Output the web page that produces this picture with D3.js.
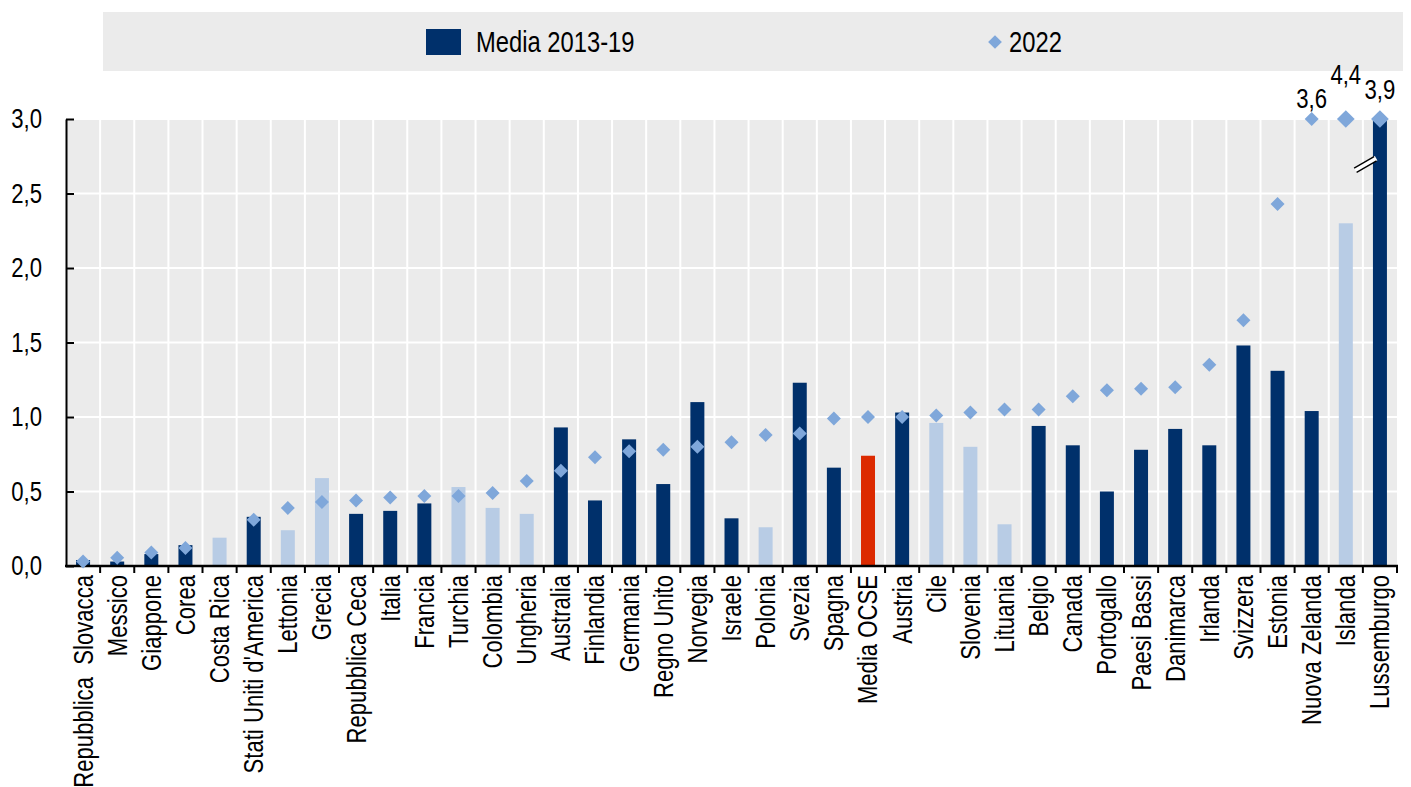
<!DOCTYPE html>
<html>
<head>
<meta charset="utf-8">
<script src="https://cdn.jsdelivr.net/npm/d3@7"></script>
<style>
  html, body { margin: 0; padding: 0; background: #fff; }
  svg { display: block; }
  text { font-family: "Liberation Sans", Arial, sans-serif; fill: #000; }
</style>
</head>
<body>
<div id="chart"></div>
<script>
// Data
const countries = [
  "Repubblica  Slovacca", "Messico", "Giappone", "Corea", "Costa Rica",
  "Stati Uniti d'America", "Lettonia", "Grecia", "Repubblica Ceca", "Italia",
  "Francia", "Turchia", "Colombia", "Ungheria", "Australia",
  "Finlandia", "Germania", "Regno Unito", "Norvegia", "Israele",
  "Polonia", "Svezia", "Spagna", "Media OCSE", "Austria",
  "Cile", "Slovenia", "Lituania", "Belgio", "Canada",
  "Portogallo", "Paesi Bassi", "Danimarca", "Irlanda", "Svizzera",
  "Estonia", "Nuova Zelanda", "Islanda", "Lussemburgo"
];
const avg2013_19 = [
  0.04, 0.03, 0.08, 0.14, 0.19,
  0.33, 0.24, 0.59, 0.35, 0.37,
  0.42, 0.53, 0.39, 0.35, 0.93,
  0.44, 0.85, 0.55, 1.10, 0.32,
  0.26, 1.23, 0.66, 0.74, 1.03,
  0.96, 0.80, 0.28, 0.94, 0.81,
  0.50, 0.78, 0.92, 0.81, 1.48,
  1.31, 1.04, 2.30, 3.20
];
const val2022 = [
  0.03, 0.055, 0.09, 0.12, null,
  0.31, 0.39, 0.43, 0.44, 0.46,
  0.47, 0.47, 0.49, 0.57, 0.64,
  0.73, 0.77, 0.78, 0.80, 0.83,
  0.88, 0.89, 0.99, 1.00, 1.00,
  1.01, 1.03, 1.05, 1.05, 1.14,
  1.18, 1.19, 1.20, 1.35, 1.65,
  2.43, 3.6, 4.4, 3.9
];
// countries drawn in the lighter shade
const lightBars = ["Costa Rica", "Lettonia", "Grecia", "Turchia", "Colombia", "Ungheria",
                   "Polonia", "Cile", "Slovenia", "Lituania", "Islanda"];
const averageName = "Media OCSE";
const yTicks = [0, 0.5, 1.0, 1.5, 2.0, 2.5, 3.0];
const legendLabels = ["Media 2013-19", "2022"];

// Layout
const width = 1411, height = 787;
const margin = { top: 119, right: 14, bottom: 221, left: 66 };
const yMax = 3.0;
const colors = { dark: "#00306b", light: "#b8cce5", oecd: "#dc2a00", diamond: "#7fa7da", bg: "#ebebeb" };
const fontSize = 27;
const narrow = 0.82; // squeeze Liberation Sans to look like a narrow face

const it = d3.formatLocale({ decimal: ",", thousands: ".", grouping: [3], currency: ["", "€"] });
const fmt = it.format(".1f");

const data = countries.map((c, i) => ({ name: c, bar: avg2013_19[i], dot: val2022[i] }));

const svg = d3.select("#chart").append("svg")
  .attr("width", width)
  .attr("height", height);

const x = d3.scaleBand()
  .domain(countries)
  .range([margin.left, width - margin.right])
  .paddingInner(0)
  .paddingOuter(0);

const y = d3.scaleLinear()
  .domain([0, yMax])
  .range([height - margin.bottom, margin.top]);

const barW = x.bandwidth() * 0.41;

// narrow text helper: places text at (px,py) and squeezes horizontally
function narrowText(g, px, py, str, size, anchor) {
  return g.append("text")
    .attr("transform", `translate(${px},${py}) scale(${narrow},1)`)
    .attr("text-anchor", anchor || "start")
    .attr("dy", "0.35em")
    .style("font-size", size + "px")
    .text(str);
}

// Legend box
const legend = svg.append("g");
legend.append("rect")
  .attr("x", 103).attr("y", 12)
  .attr("width", 1300).attr("height", 59)
  .attr("fill", colors.bg);
legend.append("rect")
  .attr("x", 426).attr("y", 29)
  .attr("width", 35).attr("height", 26)
  .attr("fill", colors.dark);
narrowText(legend, 476, 42, legendLabels[0], 29);
legend.append("path")
  .attr("d", d3.symbol(d3.symbolDiamond2, 120)())
  .attr("transform", "translate(995,42)")
  .attr("fill", colors.diamond);
narrowText(legend, 1009, 42, legendLabels[1], 29);

// Plot background
svg.append("rect")
  .attr("x", margin.left)
  .attr("y", y(yMax))
  .attr("width", width - margin.right - margin.left)
  .attr("height", y(0) - y(yMax))
  .attr("fill", colors.bg);

// Gridlines
const boundaries = countries.map(c => x(c)).concat([x.range()[1]]);
svg.append("g")
  .selectAll("line")
  .data(yTicks.filter(t => t > 0))
  .enter().append("line")
  .attr("x1", margin.left).attr("x2", width - margin.right)
  .attr("y1", d => y(d)).attr("y2", d => y(d))
  .attr("stroke", "#fff").attr("stroke-width", 2);
svg.append("g")
  .selectAll("line")
  .data(boundaries.slice(1, -1))
  .enter().append("line")
  .attr("x1", d => d).attr("x2", d => d)
  .attr("y1", y(yMax)).attr("y2", y(0))
  .attr("stroke", "#fff").attr("stroke-width", 2);

// Bars
svg.append("g")
  .selectAll("rect")
  .data(data)
  .enter().append("rect")
  .attr("x", d => x(d.name) + (x.bandwidth() - barW) / 2)
  .attr("y", d => y(Math.min(d.bar, yMax)))
  .attr("width", barW)
  .attr("height", d => y(0) - y(Math.min(d.bar, yMax)))
  .attr("fill", d => d.name === averageName ? colors.oecd
                   : lightBars.includes(d.name) ? colors.light : colors.dark);

// Axis break on the truncated bar
data.filter(d => d.bar > yMax).forEach(d => {
  const cx = x(d.name) + x.bandwidth() / 2 - barW / 2;
  const cy = y(2.72);
  const g = svg.append("g").attr("transform", `translate(${cx},${cy}) rotate(-30)`);
  g.append("rect").attr("x", -20).attr("y", -3).attr("width", 24).attr("height", 5).attr("fill", "#fff");
  g.append("line").attr("x1", -20).attr("x2", 3).attr("y1", -3).attr("y2", -3).attr("stroke", "#000").attr("stroke-width", 1.4);
  g.append("line").attr("x1", -20).attr("x2", 3).attr("y1", 2).attr("y2", 2).attr("stroke", "#000").attr("stroke-width", 1.4);
});

// Y axis
const yAxis = d3.axisLeft(y)
  .tickValues(yTicks)
  .tickFormat(fmt)
  .tickSizeInner(-8)
  .tickSizeOuter(0)
  .tickPadding(24);
const yAxisG = svg.append("g")
  .attr("transform", `translate(${margin.left},0)`)
  .call(yAxis);
yAxisG.select(".domain").attr("stroke", "#000").attr("stroke-width", 2);
yAxisG.selectAll(".tick line").attr("stroke", "#000").attr("stroke-width", 2);
yAxisG.selectAll("text")
  .attr("font-family", null)
  .style("font-size", fontSize + "px")
  .attr("x", -24 / narrow)
  .attr("transform", `scale(${narrow},1)`);

// x axis line and boundary ticks
svg.append("line")
  .attr("x1", margin.left - 1).attr("x2", width - margin.right + 1)
  .attr("y1", y(0)).attr("y2", y(0))
  .attr("stroke", "#000").attr("stroke-width", 2.5);
svg.append("g")
  .selectAll("line")
  .data(boundaries.slice(1))
  .enter().append("line")
  .attr("x1", d => d).attr("x2", d => d)
  .attr("y1", y(0)).attr("y2", y(0) + 7)
  .attr("stroke", "#000").attr("stroke-width", 2);

const xAxisG = svg.append("g")
  .attr("transform", `translate(0,${y(0)})`)
  .call(d3.axisBottom(x).tickSize(0).tickPadding(0));
xAxisG.select(".domain").remove();
xAxisG.selectAll("text")
  .attr("font-family", null)
  .style("font-size", fontSize + "px")
  .style("white-space", "pre")
  .attr("text-anchor", "end")
  .attr("transform", `rotate(-90) scale(${narrow},1)`)
  .attr("x", -9 / narrow)
  .attr("y", 0)
  .attr("dy", "0.35em");

// 2022 diamonds
const bigDiamonds = ["Islanda", "Lussemburgo"];
svg.append("g")
  .selectAll("path")
  .data(data.filter(d => d.dot !== null))
  .enter().append("path")
  .attr("d", d => d3.symbol(d3.symbolDiamond2, bigDiamonds.includes(d.name) ? 200 : 125)())
  .attr("transform", d => `translate(${x(d.name) + x.bandwidth() / 2},${y(Math.min(d.dot, yMax))})`)
  .attr("fill", colors.diamond);

// Labels for values beyond the axis
const labelOffset = { "Nuova Zelanda": 20, "Islanda": 44, "Lussemburgo": 29 };
const outLabels = svg.append("g");
data.filter(d => d.dot !== null && d.dot > yMax).forEach(d => {
  narrowText(outLabels, x(d.name) + x.bandwidth() / 2, y(yMax) - labelOffset[d.name], fmt(d.dot), fontSize, "middle");
});
</script>
</body>
</html>
